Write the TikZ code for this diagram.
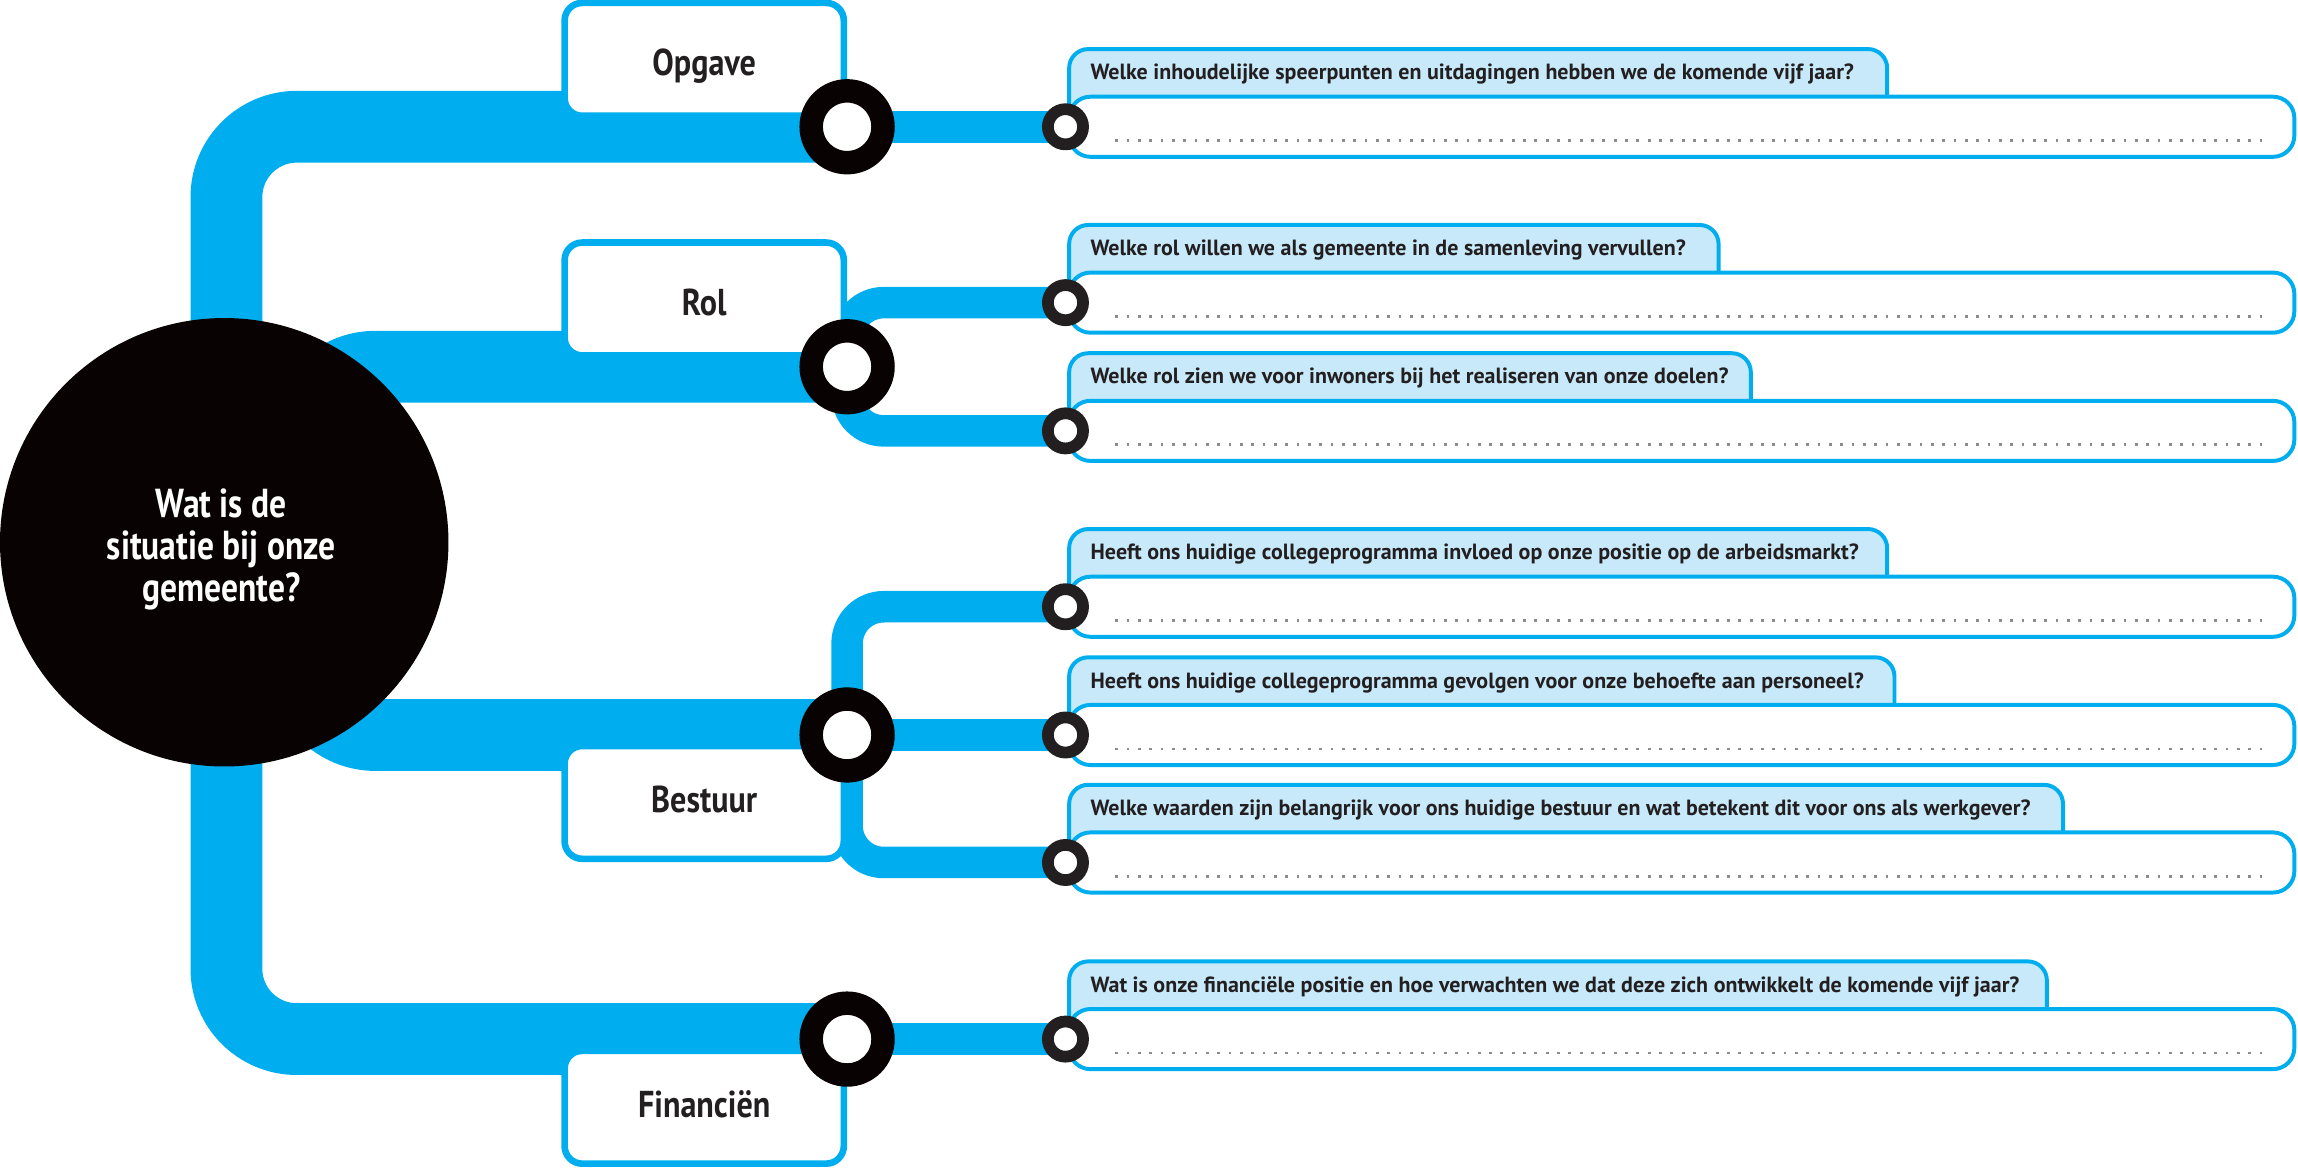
\documentclass[tikz,border=0pt]{standalone}
\usepackage{fontspec}
\newfontfamily\lblfont{PT Sans}[FakeStretch=0.86]
\newfontfamily\hubfont{PT Sans}[FakeStretch=0.83]
\newfontfamily\qfont{PT Sans}
\definecolor{cyanb}{RGB}{0,174,239}
\definecolor{tabfill}{RGB}{199,233,249}
\definecolor{ringblk}{RGB}{8,2,2}
\definecolor{ringgry}{RGB}{35,31,32}
\definecolor{txt}{RGB}{35,31,32}
\definecolor{dotgry}{RGB}{140,140,140}
\pgfdeclarelayer{bars}
\pgfsetlayers{bars,main}
\tikzset{
  trunk/.style={draw=cyanb, line width=49pt, rounded corners=48pt},
  branch/.style={draw=cyanb, line width=21.5pt, rounded corners=25pt},
  catbox/.style={rectangle, draw=cyanb, fill=white, line width=4.5pt, rounded corners=12pt,
    minimum width=190.5pt, minimum height=77pt, inner sep=0pt},
  catlabel/.style={text=txt, inner sep=0pt, text height=17.9pt, text depth=0pt,
    font=\lblfont\bfseries\fontsize{25.5}{28}\selectfont},
  bigring/.style={circle, draw=ringblk, fill=white, line width=16pt, minimum size=49pt, inner sep=0pt},
  smallring/.style={circle, draw=ringgry, fill=white, line width=8pt, minimum size=24pt, inner sep=0pt},
  hub/.style={circle, fill=ringblk, minimum size=306pt, inner sep=0pt},
  hubtext/.style={text=white, align=center, font=\hubfont\bfseries\fontsize{27.6}{28.5}\selectfont},
  tabshape/.style={draw=cyanb, fill=tabfill, line width=2.7pt},
  qtext/.style={text=txt, inner sep=0pt, font=\qfont\bfseries\fontsize{15}{17}\selectfont},
  ansbox/.style={rectangle, draw=cyanb, fill=white, line width=2.7pt, rounded corners=14.5pt,
    minimum width=836pt, minimum height=41pt, inner sep=0pt},
  dotline/.style={draw=dotgry, line width=1.9pt, dash pattern=on 1.9pt off 5.83pt}
}
\newcommand\qgroup[4]{%
  \draw[tabshape] (729.5,#2-8) [rounded corners=13pt] -- (729.5,#2-53) -- (#3-1.35,#2-53) [sharp corners] -- (#3-1.35,#2-8) -- cycle;
  \node[qtext, anchor=base west] (t#1) at (744,#2-32) {#4};
  \node[ansbox] (a#1) at (1147.5,#2) {};
  \draw[dotline] (761,#2+9.5) -- (1549,#2+9.5);
  \node[smallring] (s#1) at (727,#2) {};
}
\begin{document}
\begin{tikzpicture}[x=1pt,y=-1pt]
\useasboundingbox (0,0) rectangle (1568,799);
\coordinate (trunkx) at (154.5,0);
\coordinate (hubx) at (208,0);

% category boxes
\node[catbox] (bopg) at (480.5,40.5) {};
\node[catlabel] (lopg) at (480.5,42.5) {Opgave};
\node[catbox] (brol) at (480.5,204) {};
\node[catlabel] (lrol) at (480.5,206) {Rol};
\node[catbox] (bbes) at (480.5,547.5) {};
\node[catlabel] (lbes) at (480.5,545.5) {Bestuur};
\node[catbox] (bfin) at (480.5,755.5) {};
\node[catlabel] (lfin) at (480.5,753.5) {Financiën};

% central circle
\node[hub] (hub) at (153,370) {};
\node[hubtext] (hubt) at (151,375) {Wat is de\\situatie bij onze\\gemeente?};

% question groups
\qgroup{1}{86.5}{1289}{Welke inhoudelijke speerpunten en uitdagingen hebben we de komende vijf jaar?}
\qgroup{2}{206.5}{1174}{Welke rol willen we als gemeente in de samenleving vervullen?}
\qgroup{3}{294}{1196}{Welke rol zien we voor inwoners bij het realiseren van onze doelen?}
\qgroup{4}{414}{1289}{Heeft ons huidige collegeprogramma invloed op onze positie op de arbeidsmarkt?}
\qgroup{5}{501.5}{1294}{Heeft ons huidige collegeprogramma gevolgen voor onze behoefte aan personeel?}
\qgroup{6}{588.5}{1409}{Welke waarden zijn belangrijk voor ons huidige bestuur en wat betekent dit voor ons als werkgever?}
\qgroup{7}{709}{1398}{Wat is onze financiële positie en hoe verwachten we dat deze zich ontwikkelt de komende vijf jaar?}

% big rings
\node[bigring] (ropg) at (578,86.5) {};
\node[bigring] (rrol) at (578,250.25) {};
\node[bigring] (rbes) at (578,501.5) {};
\node[bigring] (rfin) at (578,709) {};

\begin{pgfonlayer}{bars}
  \draw[trunk] (ropg.center) -- (ropg.center -| trunkx) -- (rfin.center -| trunkx) -- (rfin.center);
  \draw[trunk] (rrol.center) -- (rrol.center -| hubx) -- (rbes.center -| hubx) -- (rbes.center);
  \draw[branch] (ropg.center) -- (s1.center);
  \draw[branch] (s2.center) -- (s2.center -| rrol.center) -- (s3.center -| rrol.center) -- (s3.center);
  \draw[branch] (s4.center) -- (s4.center -| rbes.center) -- (s6.center -| rbes.center) -- (s6.center);
  \draw[branch] (rbes.center) -- (s5.center);
  \draw[branch] (rfin.center) -- (s7.center);
\end{pgfonlayer}
\end{tikzpicture}
\end{document}
